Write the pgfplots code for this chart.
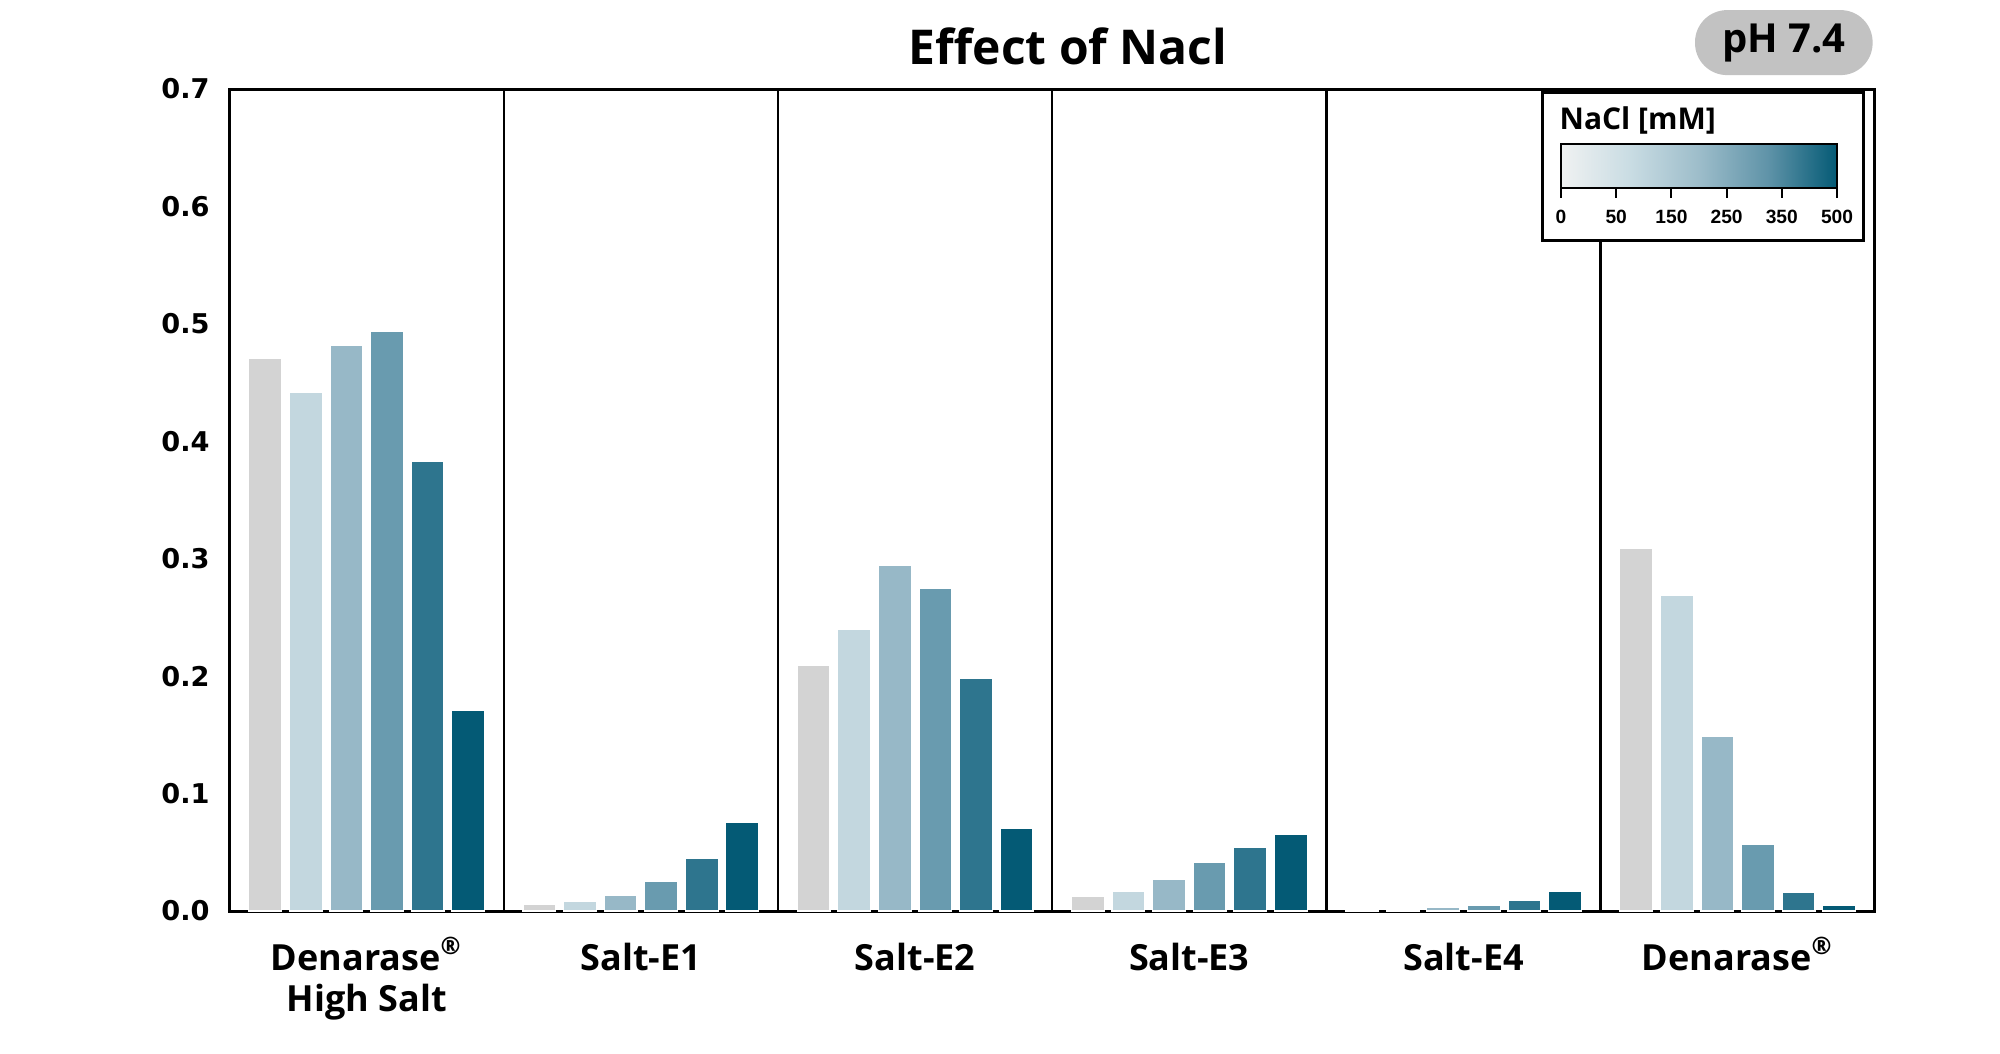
\documentclass[border=0pt]{standalone}
\usepackage{fontspec}
\setmainfont{Open Sans}
\newfontfamily\dejavu{DejaVu Sans}
\newfontfamily\libsans{Liberation Sans}
\usepackage{pgfplots}
\usepackage{pgfplotstable}
\pgfplotsset{compat=1.18}

\definecolor{c0}{HTML}{D3D3D3}
\definecolor{c1}{HTML}{C3D7DF}
\definecolor{c2}{HTML}{97B8C7}
\definecolor{c3}{HTML}{699BAF}
\definecolor{c4}{HTML}{2E758E}
\definecolor{c5}{HTML}{045A75}
\definecolor{g0}{HTML}{F0F2F2}
\definecolor{g1}{HTML}{C9DCE3}
\definecolor{g2}{HTML}{9DBDCA}
\definecolor{g3}{HTML}{5F93A8}
\definecolor{g4}{HTML}{045A75}
\definecolor{badgegray}{HTML}{C2C2C2}

\pgfdeclarehorizontalshading{nacl}{100bp}{color(0bp)=(g0); color(25bp)=(g0); color(37.5bp)=(g1); color(50bp)=(g2); color(62.5bp)=(g3); color(75bp)=(g4); color(100bp)=(g4)}

\pgfplotstableread{
g s0 s1 s2 s3 s4 s5
0 0.471 0.442 0.482 0.494 0.383 0.171
1 0.006 0.0085 0.0135 0.0255 0.0445 0.0755
2 0.209 0.240 0.294 0.275 0.198 0.070
3 0.0125 0.017 0.027 0.0415 0.054 0.0655
4 0.0005 0.001 0.0028 0.0048 0.009 0.0165
5 0.309 0.269 0.149 0.057 0.016 0.005
}\datatable

\begin{document}
\begin{tikzpicture}
\useasboundingbox (-57.4pt,-35.5pt) rectangle (442.6pt,227.75pt);
\begin{axis}[
  at={(0,0)}, anchor=south west,
  scale only axis, width=411.3pt, height=205.5pt,
  xmin=0, xmax=6, ymin=0, ymax=0.7,
  axis line style={line width=0.75pt},
  xtick={0.5,1.5,2.5,3.5,4.5,5.5},
  xticklabels={{\begin{tabular}[t]{@{}c@{}}Denarase\textsuperscript{®}\\High Salt\end{tabular}},Salt-E1,Salt-E2,Salt-E3,Salt-E4,{Denarase\textsuperscript{®}}},
  xticklabel style={font=\bfseries\fontsize{9}{10.3}\selectfont, anchor=base, inner sep=0pt, yshift=-14.75pt},
  ytick={0,0.1,0.2,0.3,0.4,0.5,0.6,0.7},
  yticklabel style={font=\dejavu\bfseries\fontsize{6.8}{8}\selectfont, anchor=east, inner sep=0pt, xshift=-4.8pt,
    /pgf/number format/fixed, /pgf/number format/fixed zerofill, /pgf/number format/precision=1, /pgf/number format/assume math mode=true},
  major tick length=0pt,
  extra x ticks={1,2,3,4,5},
  extra x tick labels={},
  extra x tick style={grid=major, major grid style={black, line width=0.6pt}},
  ybar, bar width=0.12, bar shift=0pt,
  every axis plot/.append style={draw=white, line width=0.3pt},
]
\addplot[fill=c0] table[x expr=\thisrow{g}+0.130, y=s0] {\datatable};
\addplot[fill=c1] table[x expr=\thisrow{g}+0.278, y=s1] {\datatable};
\addplot[fill=c2] table[x expr=\thisrow{g}+0.426, y=s2] {\datatable};
\addplot[fill=c3] table[x expr=\thisrow{g}+0.574, y=s3] {\datatable};
\addplot[fill=c4] table[x expr=\thisrow{g}+0.722, y=s4] {\datatable};
\addplot[fill=c5] table[x expr=\thisrow{g}+0.870, y=s5] {\datatable};
\end{axis}
% legend
\draw[fill=white, line width=0.75pt] (328.1pt,167.75pt) rectangle (408.35pt,204.75pt);
\node[anchor=west, inner sep=0pt, font=\bfseries\fontsize{7.5}{9}\selectfont] at (332.3pt,197.75pt) {NaCl [mM]};
\shade[shading=nacl] (332.85pt,180.75pt) rectangle (401.85pt,191.75pt);
\draw[line width=0.4pt] (332.85pt,180.75pt) rectangle (401.85pt,191.75pt);
\foreach \i/\l in {0/0,1/50,2/150,3/250,4/350,5/500} {
  \draw[line width=0.5pt] ({332.85pt+13.8pt*\i},180.75pt) -- ++(0,-2.6pt);
  \node[font=\libsans\bfseries\fontsize{4.8}{6}\selectfont, inner sep=0pt] at ({332.85pt+13.8pt*\i},173.6pt) {\l};
}
% title
\node[anchor=base, inner sep=0pt, font=\bfseries\fontsize{12}{14}\selectfont] at (209.6pt,211.5pt) {Effect of Nacl};
% badge
\node[fill=badgegray, rounded corners=8pt, minimum width=44.4pt, minimum height=16.25pt, inner sep=0pt, font=\bfseries\fontsize{10}{12}\selectfont] at (388.55pt,217.1pt) {pH 7.4};
\end{tikzpicture}
\end{document}
